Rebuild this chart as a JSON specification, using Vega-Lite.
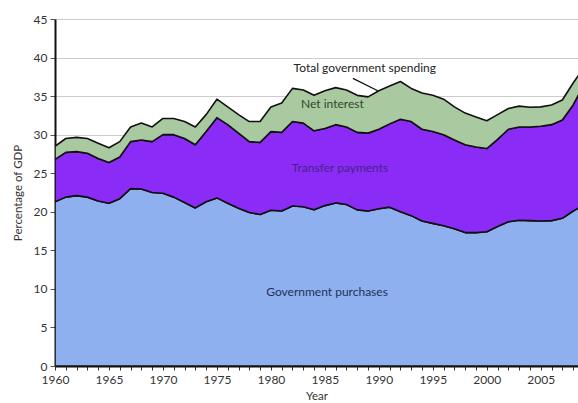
{
  "$schema": "https://vega.github.io/schema/vega-lite/v6.json",
  "autosize": "none",
  "width": 523,
  "height": 347,
  "padding": {"left": 55, "top": 19, "right": 0, "bottom": 37},
  "background": "white",
  "config": {
    "font": "Lato",
    "view": {"stroke": null},
    "axis": {"labelFont": "Lato", "titleFont": "Lato", "labelFontSize": 12, "titleFontSize": 11.5, "labelColor": "#333", "titleColor": "#333", "titleFontWeight": "normal", "labelOverlap": false, "labelFlush": false}
  },
  "datasets": {
    "spending": [
      {"year": 1960, "series": "Government purchases", "rank": 1, "value": 21.3},
      {"year": 1960, "series": "Transfer payments", "rank": 2, "value": 5.5},
      {"year": 1960, "series": "Net interest", "rank": 3, "value": 1.7},
      {"year": 1961, "series": "Government purchases", "rank": 1, "value": 21.9},
      {"year": 1961, "series": "Transfer payments", "rank": 2, "value": 5.8},
      {"year": 1961, "series": "Net interest", "rank": 3, "value": 1.8},
      {"year": 1962, "series": "Government purchases", "rank": 1, "value": 22.1},
      {"year": 1962, "series": "Transfer payments", "rank": 2, "value": 5.7},
      {"year": 1962, "series": "Net interest", "rank": 3, "value": 1.85},
      {"year": 1963, "series": "Government purchases", "rank": 1, "value": 21.9},
      {"year": 1963, "series": "Transfer payments", "rank": 2, "value": 5.7},
      {"year": 1963, "series": "Net interest", "rank": 3, "value": 1.9},
      {"year": 1964, "series": "Government purchases", "rank": 1, "value": 21.4},
      {"year": 1964, "series": "Transfer payments", "rank": 2, "value": 5.5},
      {"year": 1964, "series": "Net interest", "rank": 3, "value": 2.0},
      {"year": 1965, "series": "Government purchases", "rank": 1, "value": 21.1},
      {"year": 1965, "series": "Transfer payments", "rank": 2, "value": 5.3},
      {"year": 1965, "series": "Net interest", "rank": 3, "value": 1.9},
      {"year": 1966, "series": "Government purchases", "rank": 1, "value": 21.7},
      {"year": 1966, "series": "Transfer payments", "rank": 2, "value": 5.4},
      {"year": 1966, "series": "Net interest", "rank": 3, "value": 2.0},
      {"year": 1967, "series": "Government purchases", "rank": 1, "value": 23.0},
      {"year": 1967, "series": "Transfer payments", "rank": 2, "value": 6.1},
      {"year": 1967, "series": "Net interest", "rank": 3, "value": 1.9},
      {"year": 1968, "series": "Government purchases", "rank": 1, "value": 22.95},
      {"year": 1968, "series": "Transfer payments", "rank": 2, "value": 6.35},
      {"year": 1968, "series": "Net interest", "rank": 3, "value": 2.2},
      {"year": 1969, "series": "Government purchases", "rank": 1, "value": 22.5},
      {"year": 1969, "series": "Transfer payments", "rank": 2, "value": 6.6},
      {"year": 1969, "series": "Net interest", "rank": 3, "value": 1.9},
      {"year": 1970, "series": "Government purchases", "rank": 1, "value": 22.4},
      {"year": 1970, "series": "Transfer payments", "rank": 2, "value": 7.6},
      {"year": 1970, "series": "Net interest", "rank": 3, "value": 2.1},
      {"year": 1971, "series": "Government purchases", "rank": 1, "value": 21.9},
      {"year": 1971, "series": "Transfer payments", "rank": 2, "value": 8.1},
      {"year": 1971, "series": "Net interest", "rank": 3, "value": 2.1},
      {"year": 1972, "series": "Government purchases", "rank": 1, "value": 21.2},
      {"year": 1972, "series": "Transfer payments", "rank": 2, "value": 8.3},
      {"year": 1972, "series": "Net interest", "rank": 3, "value": 2.2},
      {"year": 1973, "series": "Government purchases", "rank": 1, "value": 20.5},
      {"year": 1973, "series": "Transfer payments", "rank": 2, "value": 8.2},
      {"year": 1973, "series": "Net interest", "rank": 3, "value": 2.3},
      {"year": 1974, "series": "Government purchases", "rank": 1, "value": 21.3},
      {"year": 1974, "series": "Transfer payments", "rank": 2, "value": 9.1},
      {"year": 1974, "series": "Net interest", "rank": 3, "value": 2.2},
      {"year": 1975, "series": "Government purchases", "rank": 1, "value": 21.8},
      {"year": 1975, "series": "Transfer payments", "rank": 2, "value": 10.4},
      {"year": 1975, "series": "Net interest", "rank": 3, "value": 2.4},
      {"year": 1976, "series": "Government purchases", "rank": 1, "value": 21.1},
      {"year": 1976, "series": "Transfer payments", "rank": 2, "value": 10.2},
      {"year": 1976, "series": "Net interest", "rank": 3, "value": 2.3},
      {"year": 1977, "series": "Government purchases", "rank": 1, "value": 20.45},
      {"year": 1977, "series": "Transfer payments", "rank": 2, "value": 9.75},
      {"year": 1977, "series": "Net interest", "rank": 3, "value": 2.4},
      {"year": 1978, "series": "Government purchases", "rank": 1, "value": 19.9},
      {"year": 1978, "series": "Transfer payments", "rank": 2, "value": 9.2},
      {"year": 1978, "series": "Net interest", "rank": 3, "value": 2.6},
      {"year": 1979, "series": "Government purchases", "rank": 1, "value": 19.65},
      {"year": 1979, "series": "Transfer payments", "rank": 2, "value": 9.35},
      {"year": 1979, "series": "Net interest", "rank": 3, "value": 2.7},
      {"year": 1980, "series": "Government purchases", "rank": 1, "value": 20.2},
      {"year": 1980, "series": "Transfer payments", "rank": 2, "value": 10.2},
      {"year": 1980, "series": "Net interest", "rank": 3, "value": 3.2},
      {"year": 1981, "series": "Government purchases", "rank": 1, "value": 20.1},
      {"year": 1981, "series": "Transfer payments", "rank": 2, "value": 10.2},
      {"year": 1981, "series": "Net interest", "rank": 3, "value": 3.8},
      {"year": 1982, "series": "Government purchases", "rank": 1, "value": 20.75},
      {"year": 1982, "series": "Transfer payments", "rank": 2, "value": 10.95},
      {"year": 1982, "series": "Net interest", "rank": 3, "value": 4.3},
      {"year": 1983, "series": "Government purchases", "rank": 1, "value": 20.65},
      {"year": 1983, "series": "Transfer payments", "rank": 2, "value": 10.85},
      {"year": 1983, "series": "Net interest", "rank": 3, "value": 4.3},
      {"year": 1984, "series": "Government purchases", "rank": 1, "value": 20.25},
      {"year": 1984, "series": "Transfer payments", "rank": 2, "value": 10.25},
      {"year": 1984, "series": "Net interest", "rank": 3, "value": 4.6},
      {"year": 1985, "series": "Government purchases", "rank": 1, "value": 20.8},
      {"year": 1985, "series": "Transfer payments", "rank": 2, "value": 10.0},
      {"year": 1985, "series": "Net interest", "rank": 3, "value": 4.9},
      {"year": 1986, "series": "Government purchases", "rank": 1, "value": 21.15},
      {"year": 1986, "series": "Transfer payments", "rank": 2, "value": 10.15},
      {"year": 1986, "series": "Net interest", "rank": 3, "value": 4.8},
      {"year": 1987, "series": "Government purchases", "rank": 1, "value": 20.95},
      {"year": 1987, "series": "Transfer payments", "rank": 2, "value": 10.05},
      {"year": 1987, "series": "Net interest", "rank": 3, "value": 4.8},
      {"year": 1988, "series": "Government purchases", "rank": 1, "value": 20.25},
      {"year": 1988, "series": "Transfer payments", "rank": 2, "value": 10.05},
      {"year": 1988, "series": "Net interest", "rank": 3, "value": 4.8},
      {"year": 1989, "series": "Government purchases", "rank": 1, "value": 20.1},
      {"year": 1989, "series": "Transfer payments", "rank": 2, "value": 10.1},
      {"year": 1989, "series": "Net interest", "rank": 3, "value": 4.7},
      {"year": 1990, "series": "Government purchases", "rank": 1, "value": 20.4},
      {"year": 1990, "series": "Transfer payments", "rank": 2, "value": 10.3},
      {"year": 1990, "series": "Net interest", "rank": 3, "value": 5.0},
      {"year": 1991, "series": "Government purchases", "rank": 1, "value": 20.6},
      {"year": 1991, "series": "Transfer payments", "rank": 2, "value": 10.8},
      {"year": 1991, "series": "Net interest", "rank": 3, "value": 4.9},
      {"year": 1992, "series": "Government purchases", "rank": 1, "value": 20.0},
      {"year": 1992, "series": "Transfer payments", "rank": 2, "value": 12.0},
      {"year": 1992, "series": "Net interest", "rank": 3, "value": 4.9},
      {"year": 1993, "series": "Government purchases", "rank": 1, "value": 19.5},
      {"year": 1993, "series": "Transfer payments", "rank": 2, "value": 12.2},
      {"year": 1993, "series": "Net interest", "rank": 3, "value": 4.3},
      {"year": 1994, "series": "Government purchases", "rank": 1, "value": 18.8},
      {"year": 1994, "series": "Transfer payments", "rank": 2, "value": 11.9},
      {"year": 1994, "series": "Net interest", "rank": 3, "value": 4.7},
      {"year": 1995, "series": "Government purchases", "rank": 1, "value": 18.5},
      {"year": 1995, "series": "Transfer payments", "rank": 2, "value": 11.9},
      {"year": 1995, "series": "Net interest", "rank": 3, "value": 4.7},
      {"year": 1996, "series": "Government purchases", "rank": 1, "value": 18.2},
      {"year": 1996, "series": "Transfer payments", "rank": 2, "value": 11.8},
      {"year": 1996, "series": "Net interest", "rank": 3, "value": 4.6},
      {"year": 1997, "series": "Government purchases", "rank": 1, "value": 17.8},
      {"year": 1997, "series": "Transfer payments", "rank": 2, "value": 11.5},
      {"year": 1997, "series": "Net interest", "rank": 3, "value": 4.3},
      {"year": 1998, "series": "Government purchases", "rank": 1, "value": 17.3},
      {"year": 1998, "series": "Transfer payments", "rank": 2, "value": 11.4},
      {"year": 1998, "series": "Net interest", "rank": 3, "value": 4.1},
      {"year": 1999, "series": "Government purchases", "rank": 1, "value": 17.3},
      {"year": 1999, "series": "Transfer payments", "rank": 2, "value": 11.1},
      {"year": 1999, "series": "Net interest", "rank": 3, "value": 3.9},
      {"year": 2000, "series": "Government purchases", "rank": 1, "value": 17.4},
      {"year": 2000, "series": "Transfer payments", "rank": 2, "value": 10.8},
      {"year": 2000, "series": "Net interest", "rank": 3, "value": 3.6},
      {"year": 2001, "series": "Government purchases", "rank": 1, "value": 18.1},
      {"year": 2001, "series": "Transfer payments", "rank": 2, "value": 11.3},
      {"year": 2001, "series": "Net interest", "rank": 3, "value": 3.2},
      {"year": 2002, "series": "Government purchases", "rank": 1, "value": 18.7},
      {"year": 2002, "series": "Transfer payments", "rank": 2, "value": 12.0},
      {"year": 2002, "series": "Net interest", "rank": 3, "value": 2.7},
      {"year": 2003, "series": "Government purchases", "rank": 1, "value": 18.9},
      {"year": 2003, "series": "Transfer payments", "rank": 2, "value": 12.1},
      {"year": 2003, "series": "Net interest", "rank": 3, "value": 2.7},
      {"year": 2004, "series": "Government purchases", "rank": 1, "value": 18.85},
      {"year": 2004, "series": "Transfer payments", "rank": 2, "value": 12.15},
      {"year": 2004, "series": "Net interest", "rank": 3, "value": 2.55},
      {"year": 2005, "series": "Government purchases", "rank": 1, "value": 18.8},
      {"year": 2005, "series": "Transfer payments", "rank": 2, "value": 12.3},
      {"year": 2005, "series": "Net interest", "rank": 3, "value": 2.5},
      {"year": 2006, "series": "Government purchases", "rank": 1, "value": 18.85},
      {"year": 2006, "series": "Transfer payments", "rank": 2, "value": 12.45},
      {"year": 2006, "series": "Net interest", "rank": 3, "value": 2.55},
      {"year": 2007, "series": "Government purchases", "rank": 1, "value": 19.15},
      {"year": 2007, "series": "Transfer payments", "rank": 2, "value": 12.75},
      {"year": 2007, "series": "Net interest", "rank": 3, "value": 2.6},
      {"year": 2008, "series": "Government purchases", "rank": 1, "value": 20.1},
      {"year": 2008, "series": "Transfer payments", "rank": 2, "value": 13.75},
      {"year": 2008, "series": "Net interest", "rank": 3, "value": 2.85},
      {"year": 2009, "series": "Government purchases", "rank": 1, "value": 20.85},
      {"year": 2009, "series": "Transfer payments", "rank": 2, "value": 15.65},
      {"year": 2009, "series": "Net interest", "rank": 3, "value": 2.2}
    ],
    "labels": [
      {"year": 1988.7, "value": 38.6, "text": "Total government spending", "color": "#222222"},
      {"year": 1985.7, "value": 34.0, "text": "Net interest", "color": "#2f4a2f"},
      {"year": 1986.4, "value": 25.7, "text": "Transfer payments", "color": "#4a1f8f"},
      {"year": 1985.2, "value": 9.6, "text": "Government purchases", "color": "#22305a"}
    ],
    "leader": [
      {"year": 1987.6, "value": 37.3, "year2": 1989.9, "value2": 35.7}
    ]
  },
  "encoding": {
    "x": {"field": "year", "type": "quantitative", "scale": {"domain": [1960, 2008.45], "nice": false, "zero": false},
      "axis": {"title": "Year", "values": [1960,1961,1962,1963,1964,1965,1966,1967,1968,1969,1970,1971,1972,1973,1974,1975,1976,1977,1978,1979,1980,1981,1982,1983,1984,1985,1986,1987,1988,1989,1990,1991,1992,1993,1994,1995,1996,1997,1998,1999,2000,2001,2002,2003,2004,2005,2006,2007,2008],
        "labelOverlap": false, "labelFlush": false, "labelExpr": "datum.value % 5 == 0 ? format(datum.value, 'd') : ''", "grid": false, "domainColor": "#111", "domainWidth": 2, "tickColor": "#333", "tickSize": 4, "labelPadding": 4, "titlePadding": 5}},
    "y": {"field": "value", "type": "quantitative", "scale": {"domain": [0, 45], "nice": false},
      "axis": {"title": "Percentage of GDP", "values": [0,5,10,15,20,25,30,35,40,45], "labelOverlap": false, "labelFlush": false, "grid": true, "gridColor": "#cccccc", "gridWidth": 1, "domainColor": "#111", "domainWidth": 2, "tickColor": "#555", "tickSize": 5, "labelPadding": 3, "titlePadding": 10}}
  },
  "layer": [
    {
      "data": {"name": "spending"},
      "mark": {"type": "area", "opacity": 1, "clip": true, "strokeWidth": 1.6, "strokeJoin": "round"},
      "encoding": {
        "color": {"field": "series", "type": "nominal", "legend": null,
          "scale": {"domain": ["Government purchases", "Transfer payments", "Net interest"], "range": ["#8eb0ee", "#8a2cf5", "#a9c9a0"]}},
        "stroke": {"value": "#111111"},
        "order": {"field": "rank", "type": "quantitative", "sort": "ascending"}
      }
    },
    {
      "data": {"name": "leader"},
      "mark": {"type": "rule", "color": "#111111", "strokeWidth": 1.3},
      "encoding": {
        "x2": {"field": "year2"},
        "y2": {"field": "value2"}
      }
    },
    {
      "data": {"name": "labels"},
      "mark": {"type": "text", "font": "Lato", "fontSize": 12, "align": "center", "baseline": "middle"},
      "encoding": {
        "text": {"field": "text"},
        "color": {"field": "color", "type": "nominal", "scale": null}
      }
    }
  ]
}
